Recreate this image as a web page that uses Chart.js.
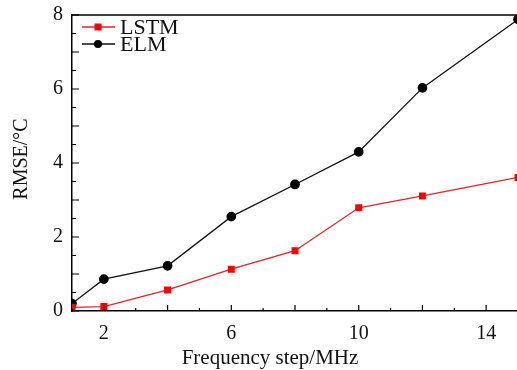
<!DOCTYPE html>
<html>
<head>
<meta charset="utf-8">
<script src="https://cdn.jsdelivr.net/npm/chart.js@4.4.0/dist/chart.umd.min.js"></script>
<style>
  html, body { margin: 0; padding: 0; background: #fff; overflow: hidden; }
  #wrap { width: 521px; height: 370px; }
</style>
</head>
<body>
<div id="wrap"><canvas id="myChart"></canvas></div>
<script>
// frequency steps (MHz) and RMSE values (°C)
const steps = [1, 2, 4, 6, 8, 10, 12, 15];
const lstm = [0.1, 0.12, 0.57, 1.13, 1.63, 2.79, 3.11, 3.61];
const elm = [0.2, 0.86, 1.22, 2.55, 3.42, 4.3, 6.03, 7.88];
const xLabels = [2, 6, 10, 14];
const yLabels = [0, 2, 4, 6, 8];

const serif = '"Liberation Serif", "Times New Roman", serif';

function points(values) {
    return steps.map((s, i) => ({x: s, y: values[i]}));
}

// inward tick marks, top/right frame, inset legend and axis titles
const framePlugin = {
    id: 'frame',
    afterDraw(chart) {
        const ctx = chart.ctx;
        const a = chart.chartArea;
        const xs = chart.scales.x;
        const ys = chart.scales.y;

        ctx.save();
        ctx.strokeStyle = '#000';
        ctx.lineWidth = 1.5;
        ctx.beginPath();
        ctx.moveTo(a.left, a.top);
        ctx.lineTo(a.right, a.top);
        ctx.lineTo(a.right, a.bottom);
        ctx.stroke();

        ctx.lineWidth = 1.2;
        ctx.beginPath();
        for (let v = 1; v <= 15; v++) {
            const px = xs.getPixelForValue(v);
            const len = v % 2 === 0 ? 6 : 3;
            ctx.moveTo(px, a.bottom);
            ctx.lineTo(px, a.bottom - len);
        }
        for (let v = 0; v <= 8; v += 0.5) {
            const py = ys.getPixelForValue(v);
            const len = Number.isInteger(v) ? 7 : 4;
            ctx.moveTo(a.left, py);
            ctx.lineTo(a.left + len, py);
        }
        ctx.stroke();

        // legend
        ctx.font = '22px ' + serif;
        ctx.textBaseline = 'middle';
        ctx.textAlign = 'left';
        chart.data.datasets.forEach((ds, i) => {
            const y = 27 + i * 17;
            ctx.strokeStyle = ds.borderColor;
            ctx.lineWidth = 1.3;
            ctx.beginPath();
            ctx.moveTo(82, y);
            ctx.lineTo(115, y);
            ctx.stroke();
            ctx.fillStyle = ds.pointBackgroundColor;
            ctx.beginPath();
            if (ds.pointStyle === 'rect') {
                ctx.rect(98 - 3.5, y - 3.5, 7, 7);
            } else {
                ctx.arc(98, y, 4, 0, Math.PI * 2);
            }
            ctx.fill();
            ctx.fillStyle = '#111';
            ctx.fillText(ds.label, 120, y + 1);
        });

        // axis titles
        ctx.font = '21px ' + serif;
        ctx.fillStyle = '#111';
        ctx.textAlign = 'center';
        ctx.fillText('Frequency step/MHz', 270, 358);
        ctx.save();
        ctx.translate(22, 159);
        ctx.rotate(-Math.PI / 2);
        ctx.font = '20px ' + serif;
        ctx.fillText('RMSE/°C', 0, 0);
        ctx.restore();

        ctx.restore();
    }
};

const config = {
    type: 'line',
    data: {
        datasets: [
            {
                label: 'LSTM',
                data: points(lstm),
                borderColor: '#e8232f',
                pointBackgroundColor: '#ff0000',
                pointBorderColor: '#ff0000',
                pointStyle: 'rect',
                pointRadius: 4,
                borderWidth: 1.3
            },
            {
                label: 'ELM',
                data: points(elm),
                borderColor: '#111',
                pointBackgroundColor: '#000',
                pointBorderColor: '#000',
                pointStyle: 'circle',
                pointRadius: 4.2,
                borderWidth: 1.3
            }
        ]
    },
    options: {
        responsive: true,
        maintainAspectRatio: false,
        animation: false,
        layout: { autoPadding: false, padding: { top: 15, right: 2, left: 0, bottom: 0 } },
        plugins: {
            legend: { display: false },
            tooltip: { enabled: false }
        },
        scales: {
            x: {
                type: 'linear',
                min: 1,
                max: 15,
                grid: { display: false },
                border: { display: true, color: '#000', width: 1.5 },
                afterFit(scale) { scale.height = 59; },
                ticks: {
                    stepSize: 1,
                    autoSkip: false,
                    maxRotation: 0,
                    padding: 3,
                    color: '#111',
                    font: { family: serif, size: 20 },
                    callback: v => xLabels.includes(v) ? String(v) : ''
                }
            },
            y: {
                min: 0,
                max: 8,
                grid: { display: false },
                border: { display: true, color: '#000', width: 1.5 },
                afterFit(scale) { scale.width = 72; },
                ticks: {
                    stepSize: 0.5,
                    autoSkip: false,
                    padding: 1,
                    color: '#111',
                    font: { family: serif, size: 20 },
                    callback: v => yLabels.includes(v) ? String(v) : ''
                }
            }
        }
    },
    plugins: [framePlugin]
};

new Chart(document.getElementById('myChart'), config);
</script>
</body>
</html>
